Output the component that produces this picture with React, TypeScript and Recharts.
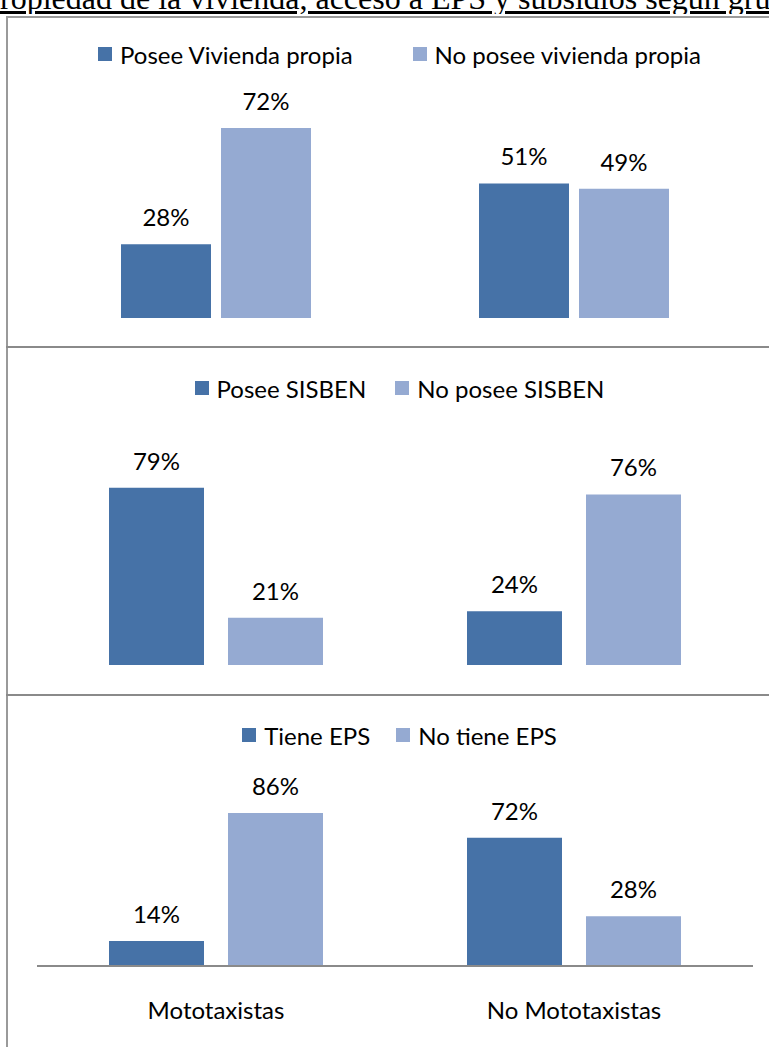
import React from "react";
import { Bar, BarChart, LabelList, Legend, XAxis, YAxis } from "recharts";

const groups = ["Mototaxistas", "No Mototaxistas"];

const viviendaLabels = ["Posee Vivienda propia", "No posee vivienda propia"];
const viviendaSi = [28, 51];
const viviendaNo = [72, 49];

const sisbenLabels = ["Posee SISBEN", "No posee SISBEN"];
const sisbenSi = [79, 24];
const sisbenNo = [21, 76];

const epsLabels = ["Tiene EPS", "No tiene EPS"];
const epsSi = [14, 72];
const epsNo = [86, 28];

const DARK = "#4672A7";
const LIGHT = "#95AAD2";
const FONT = "Lato, sans-serif";
const BORDER = "#9a9a9a";

type PanelProps = {
  top: number;
  height: number;
  marginTop: number;
  marginBottom: number;
  legendTop: number;
  legendGap: number;
  labels: string[];
  si: number[];
  no: number[];
  max: number;
  barSize: number;
  barGap: number;
  axis?: boolean;
};

function legendContent(gap: number, labels: string[]) {
  return (props: any) => {
    const items = [...(props.payload || [])].sort(
      (a: any, b: any) => labels.indexOf(a.value) - labels.indexOf(b.value)
    );
    return (
      <div
        style={{
          display: "flex",
          justifyContent: "center",
          alignItems: "center",
          height: 30,
          paddingLeft: 30,
          fontFamily: FONT,
          fontSize: 24,
          color: "#000",
        }}
      >
        {items.map((e: any, i: number) => (
          <div key={i} style={{ display: "flex", alignItems: "center", marginLeft: i ? gap : 0 }}>
            <span style={{ width: 14, height: 14, background: e.color, marginRight: 8, display: "inline-block" }} />
            <span>{e.value}</span>
          </div>
        ))}
      </div>
    );
  };
}

function Panel(p: PanelProps) {
  const data = groups.map((g, i) => ({ group: g, si: p.si[i], no: p.no[i] }));
  return (
    <div style={{ position: "absolute", top: p.top, left: 0 }}>
      <BarChart
        width={769}
        height={p.height}
        data={data}
        barGap={p.barGap}
        margin={{ top: p.marginTop, right: 16, bottom: p.marginBottom, left: 37 }}
        style={{ fontFamily: FONT }}
      >
        <XAxis
          dataKey="group"
          hide={!p.axis}
          axisLine={{ stroke: "#8a8a8a", strokeWidth: 2 }}
          tickLine={false}
          tickSize={0}
          tickMargin={36}
          height={60}
          tick={{ fill: "#000", fontSize: 24, fontFamily: FONT }}
        />
        <YAxis hide domain={[0, p.max]} />
        <Legend
          verticalAlign="top"
          height={30}
          width={769}
          wrapperStyle={{ top: p.legendTop, left: 0 }}
          content={legendContent(p.legendGap, p.labels)}
        />
        <Bar dataKey="si" name={p.labels[0]} fill={DARK} barSize={p.barSize} isAnimationActive={false}>
          <LabelList
            dataKey="si"
            position="top"
            offset={18}
            formatter={(v: any) => `${v}%`}
            fill="#000"
            fontSize={24}
            fontFamily={FONT}
          />
        </Bar>
        <Bar dataKey="no" name={p.labels[1]} fill={LIGHT} barSize={p.barSize} isAnimationActive={false}>
          <LabelList
            dataKey="no"
            position="top"
            offset={18}
            formatter={(v: any) => `${v}%`}
            fill="#000"
            fontSize={24}
            fontFamily={FONT}
          />
        </Bar>
      </BarChart>
    </div>
  );
}

export default function App() {
  return (
    <div
      style={{
        position: "absolute",
        top: 0,
        left: 0,
        width: 769,
        height: 1047,
        overflow: "hidden",
        background: "#fff",
      }}
    >
      <div
        style={{
          position: "absolute",
          top: -18,
          left: 0,
          width: 769,
          whiteSpace: "nowrap",
          overflow: "hidden",
          fontFamily: "'Liberation Serif', 'Times New Roman', serif",
          fontSize: 32,
          lineHeight: "32px",
          textDecoration: "underline",
          color: "#000",
        }}
      >
        ropiedad de la vivienda, acceso a EPS y subsidios según grupo
      </div>
      <div style={{ position: "absolute", top: 16, left: 6, width: 763, height: 2, background: BORDER }} />
      <div style={{ position: "absolute", top: 16, left: 6, width: 2, height: 1031, background: BORDER }} />
      <div style={{ position: "absolute", top: 346, left: 6, width: 763, height: 2, background: "#8a8a8a" }} />
      <div style={{ position: "absolute", top: 694, left: 6, width: 763, height: 2, background: "#8a8a8a" }} />

      <Panel
        top={18}
        height={328}
        marginTop={59}
        marginBottom={28}
        legendTop={21}
        legendGap={60}
        labels={viviendaLabels}
        si={viviendaSi}
        no={viviendaNo}
        max={80}
        barSize={90}
        barGap={10}
      />
      <Panel
        top={349}
        height={345}
        marginTop={84}
        marginBottom={29}
        legendTop={24}
        legendGap={29}
        labels={sisbenLabels}
        si={sisbenSi}
        no={sisbenNo}
        max={90}
        barSize={95}
        barGap={24}
      />
      <Panel
        top={697}
        height={350}
        marginTop={61}
        marginBottom={21}
        legendTop={23}
        legendGap={26}
        labels={epsLabels}
        si={epsSi}
        no={epsNo}
        max={100}
        barSize={95}
        barGap={24}
        axis
      />
    </div>
  );
}
